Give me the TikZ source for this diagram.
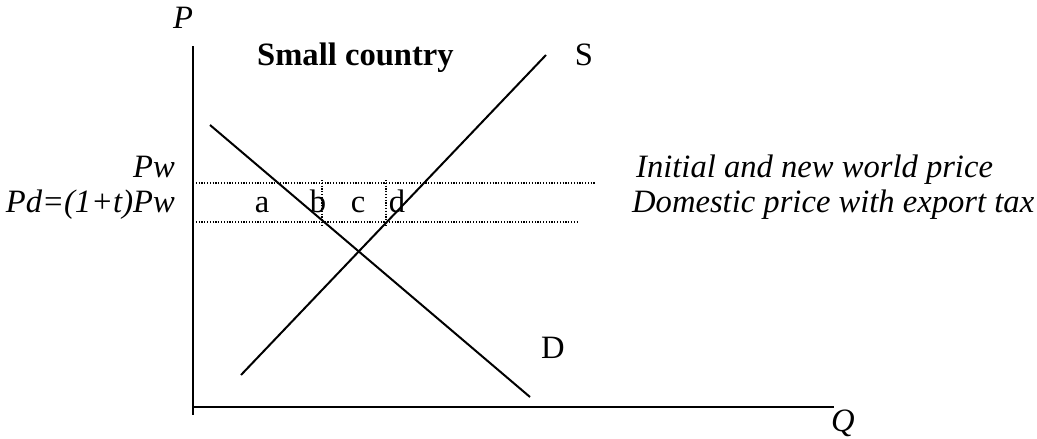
\documentclass[tikz,border=0pt]{standalone}
\usepackage{fontspec}
\setmainfont{Liberation Serif}
\begin{document}
\begin{tikzpicture}[x=1pt,y=-1pt,
  lbl/.style={inner sep=0pt,font=\fontsize{32.6}{38}\selectfont},
  axis/.style={line width=2pt},
  curve/.style={line width=2pt},
  dotline/.style={line width=1.3pt,dash pattern=on 1.2pt off 1.6pt}]
\useasboundingbox (0,0) rectangle (1037,439);
% axes
\coordinate (ytop) at (193,46);
\coordinate (ybot) at (193,415);
\coordinate (xleft) at (193,407);
\coordinate (xright) at (834,407);
\draw[axis] (ytop) -- (ybot);
\draw[axis] (xleft) -- (xright);
% curves
\coordinate (Slow) at (241,375);
\coordinate (Shigh) at (546,55);
\coordinate (Dhigh) at (210,125);
\coordinate (Dlow) at (530,397);
\draw[curve] (Slow) -- (Shigh);
\draw[curve] (Dhigh) -- (Dlow);
% dotted price lines
\coordinate (pw0) at (193,183);
\coordinate (pw1) at (595,183);
\coordinate (pd0) at (193,222);
\coordinate (pd1) at (578,222);
\draw[dotline] (pw0) -- (pw1);
\draw[dotline] (pd0) -- (pd1);
\coordinate (vb0) at (322,180);
\coordinate (vb1) at (322,227);
\coordinate (vd0) at (386,180);
\coordinate (vd1) at (386,227);
\draw[dotline] (vb0) -- (vb1);
\draw[dotline] (vd0) -- (vd1);
% labels
\node[lbl,anchor=base] (P) at (183,28) {\textit{P}};
\node[lbl,anchor=base] (Q) at (843,431) {\textit{Q}};
\node[lbl,anchor=base west] (title) at (257,65) {\textbf{Small country}};
\node[lbl,anchor=base] (S) at (584,65) {S};
\node[lbl,anchor=base] (D) at (553,358) {D};
\node[lbl,anchor=base east] (Pw) at (175,177) {\textit{Pw}};
\node[lbl,anchor=base east] (Pd) at (175,212) {\textit{Pd=(1+t)Pw}};
\node[lbl,anchor=base west] (init) at (636,177) {\textit{Initial and new world price}};
\node[lbl,anchor=base west] (dom) at (632,212) {\textit{Domestic price with export tax}};
\node[lbl,anchor=base] (a) at (262,212) {a};
\node[lbl,anchor=base] (b) at (318,212) {b};
\node[lbl,anchor=base] (c) at (358,212) {c};
\node[lbl,anchor=base] (d) at (397,212) {d};
\end{tikzpicture}
\end{document}
